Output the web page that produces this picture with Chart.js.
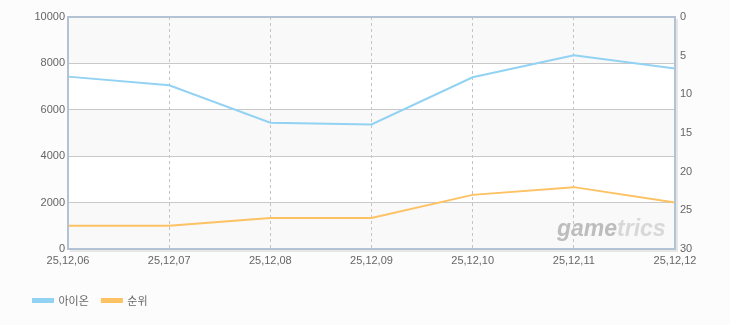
<!DOCTYPE html>
<html>
<head>
<meta charset="utf-8">
<script src="https://cdn.jsdelivr.net/npm/chart.js@4"></script>
<style>
  html, body { margin: 0; padding: 0; background: #fcfcfc; }
  #wrap { width: 730px; height: 325px; }
</style>
</head>
<body>
<div id="wrap"><canvas id="rankChart" width="730" height="325"></canvas></div>
<script>
// data
var dates = ["25,12,06", "25,12,07", "25,12,08", "25,12,09", "25,12,10", "25,12,11", "25,12,12"];
var aionValues = [7430, 7060, 5440, 5370, 7400, 8350, 7780];
var rankValues = [27, 27, 26, 26, 23, 22, 24];
var leftTicks = [0, 2000, 4000, 6000, 8000, 10000];
var rightTicks = [0, 5, 10, 15, 20, 25, 30];

Chart.defaults.font.family = "'Liberation Sans', 'Noto Sans CJK KR', sans-serif";
Chart.defaults.font.size = 11;
Chart.defaults.color = "#666";

// background bands + frame + watermark
var decor = {
  id: 'decor',
  beforeDraw: function(chart) {
    var c = chart.ctx, a = chart.chartArea, y = chart.scales.y;
    c.save();
    c.fillStyle = "#fcfcfc";
    c.fillRect(0, 0, chart.width, chart.height);
    c.fillStyle = "#ffffff";
    c.fillRect(a.left, a.top, a.right - a.left, a.bottom - a.top);
    for (var i = 0; i < leftTicks.length - 1; i++) {
      if (i % 2 == 0) {
        var top = y.getPixelForValue(leftTicks[i + 1]);
        var bot = y.getPixelForValue(leftTicks[i]);
        c.fillStyle = "#f9f9f9";
        c.fillRect(a.left, top, a.right - a.left, bot - top);
      }
    }
    c.restore();
  },
  afterDatasetsDraw: function(chart) {
    var c = chart.ctx, a = chart.chartArea;
    c.save();
    c.font = "italic bold 23px 'Liberation Sans', sans-serif";
    c.textBaseline = "alphabetic";
    c.fillStyle = "#bdbdbd";
    c.fillText("game", 557, 236);
    var w = c.measureText("game").width;
    c.fillStyle = "#d8d8d8";
    c.fillText("trics", 557 + w, 236);
    // shadow
    c.strokeStyle = "#e6e6e6";
    c.lineWidth = 2;
    c.beginPath();
    c.moveTo(a.left + 2, a.bottom + 2);
    c.lineTo(a.right + 2, a.bottom + 2);
    c.lineTo(a.right + 2, a.top + 2);
    c.stroke();
    // frame
    c.strokeStyle = "#b3c3d3";
    c.lineWidth = 2;
    c.strokeRect(a.left, a.top, a.right - a.left, a.bottom - a.top);
    c.restore();
  }
};

new Chart(document.getElementById("rankChart"), {
  type: 'line',
  data: {
    labels: dates,
    datasets: [{
      label: "아이온",
      data: aionValues,
      yAxisID: 'y',
      borderColor: '#92d2f2',
      backgroundColor: '#92d2f2',
      borderWidth: 2,
      pointRadius: 0,
      tension: 0,
      fill: false
    }, {
      label: "순위",
      data: rankValues,
      yAxisID: 'y1',
      borderColor: '#fdc263',
      backgroundColor: '#fdc263',
      borderWidth: 2,
      pointRadius: 0,
      tension: 0,
      fill: false
    }]
  },
  options: {
    responsive: false,
    animation: false,
    layout: { padding: { left: 20, right: 20, top: 17, bottom: 9 } },
    plugins: {
      tooltip: { enabled: false },
      legend: {
        position: 'bottom',
        align: 'start',
        labels: {
          boxWidth: 20,
          boxHeight: 3,
          padding: 13,
          color: '#666',
          font: { size: 11, family: "'Noto Sans CJK KR', sans-serif" }
        }
      }
    },
    scales: {
      x: {
        offset: false,
        grid: { color: '#c4c4c4', drawTicks: false },
        border: { display: false, dash: [3, 3] },
        ticks: { padding: 5, maxRotation: 0, autoSkip: false },
        afterFit: function(s) { s.height = 33; }
      },
      y: {
        position: 'left',
        min: 0, max: 10000,
        afterBuildTicks: function(s) { s.ticks = leftTicks.map(function(v) { return { value: v }; }); },
        grid: { color: '#c8c8c8', drawTicks: false },
        border: { display: false },
        ticks: { padding: 3, callback: function(v) { return String(v); } },
        afterFit: function(s) { s.width = 48; }
      },
      y1: {
        position: 'right',
        reverse: true,
        min: 0, max: 30,
        afterBuildTicks: function(s) { s.ticks = rightTicks.map(function(v) { return { value: v }; }); },
        grid: { display: false, drawTicks: false },
        border: { display: false },
        ticks: { padding: 5 },
        afterFit: function(s) { s.width = 35; }
      }
    }
  },
  plugins: [decor]
});
</script>
</body>
</html>
